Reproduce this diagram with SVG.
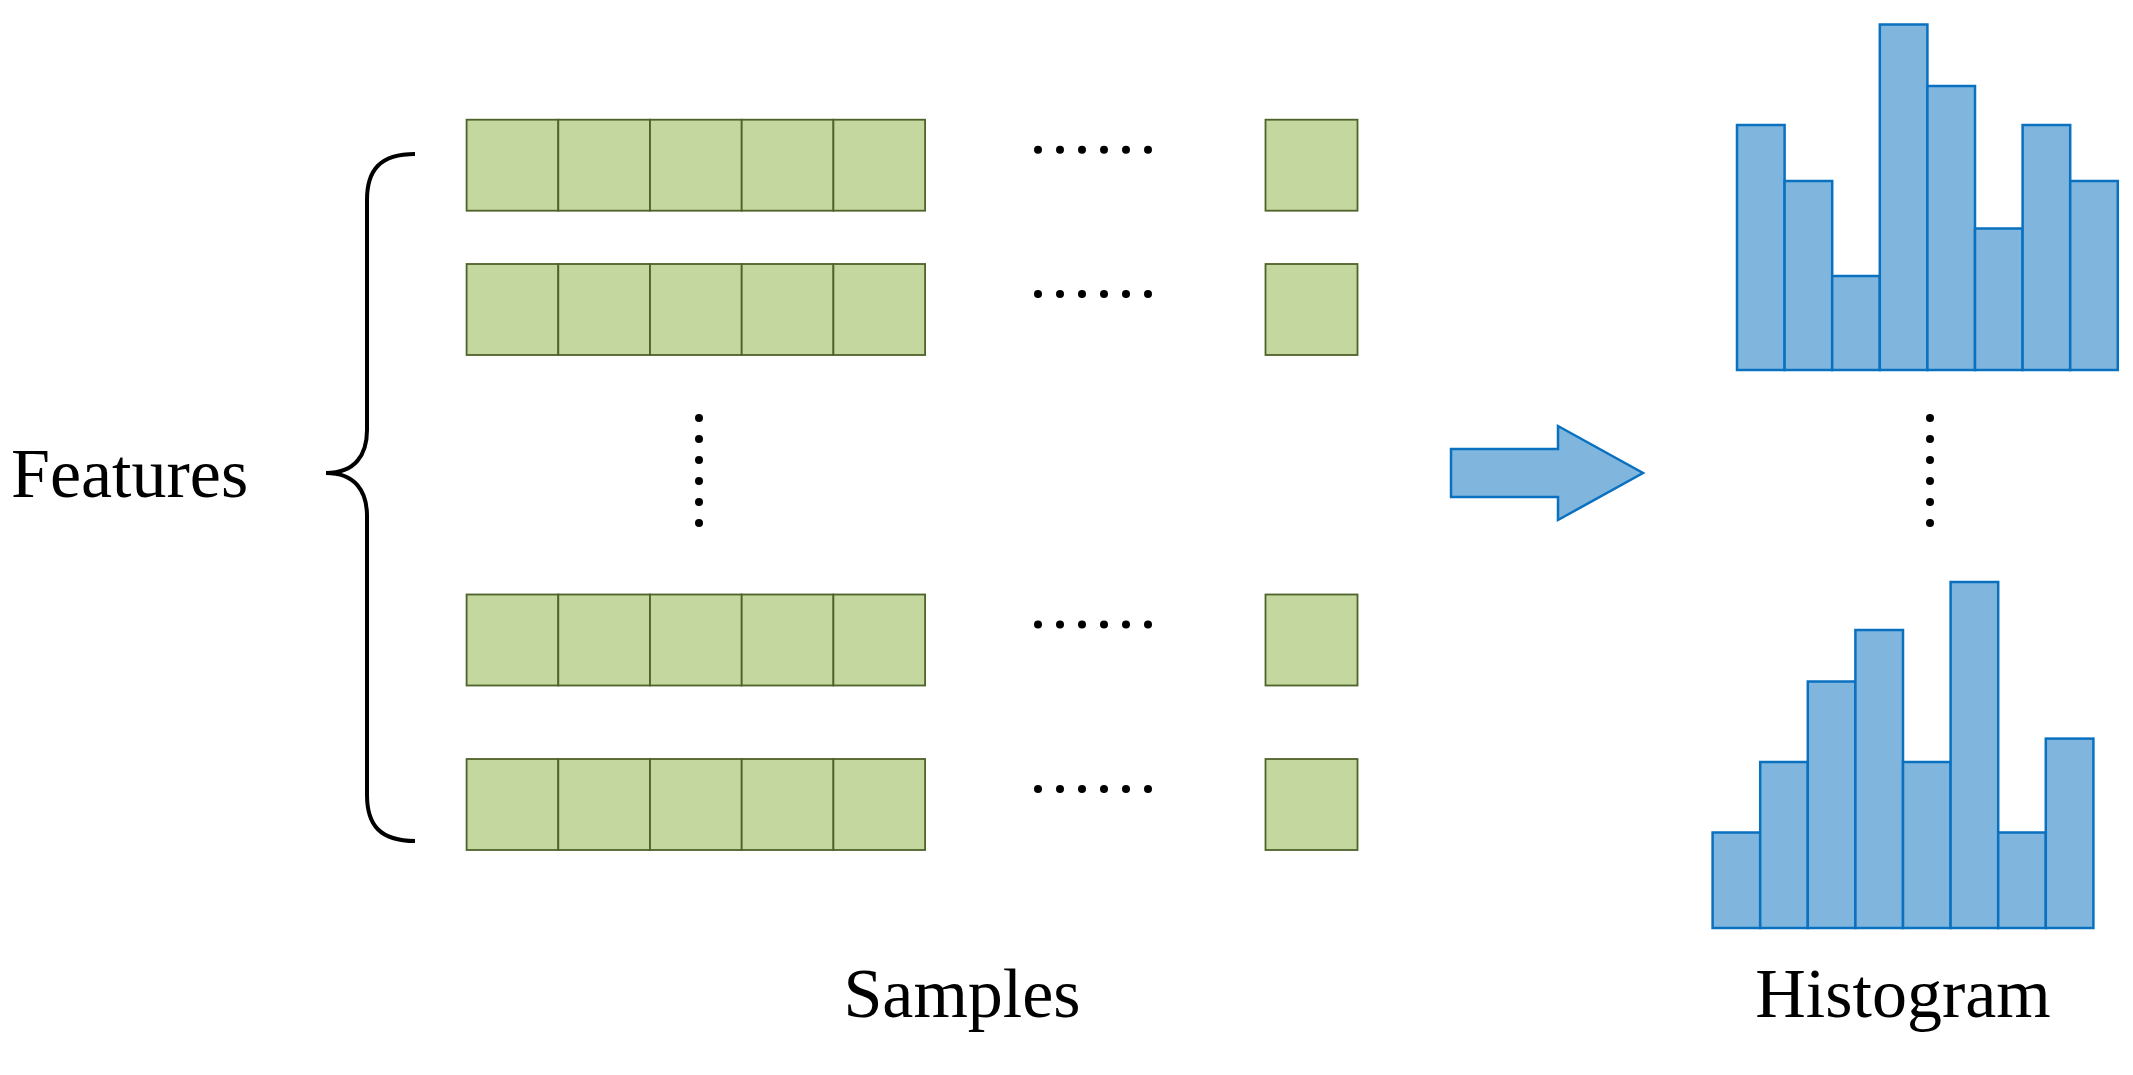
<svg xmlns="http://www.w3.org/2000/svg" width="2133" height="1075" viewBox="0 0 2133 1075">
<style>
.c{fill:#C4D79F;stroke:#4F6228;stroke-width:1.8}
.b{fill:#80B6DE;stroke:#0A70C0;stroke-width:2.5}
.t{font-family:"Liberation Serif",serif;font-size:70px;fill:#000}
.d{fill:#000}
</style>
<defs>
<g id="row">
<rect class="c" x="466.6" y="0" width="91.7" height="91"/>
<rect class="c" x="558.3" y="0" width="91.7" height="91"/>
<rect class="c" x="650" y="0" width="91.7" height="91"/>
<rect class="c" x="741.7" y="0" width="91.7" height="91"/>
<rect class="c" x="833.4" y="0" width="91.7" height="91"/>
<rect class="c" x="1265.5" y="0" width="92" height="91"/>
<g class="d"><circle cx="1038" cy="30" r="4"/><circle cx="1060" cy="30" r="4"/><circle cx="1082" cy="30" r="4"/><circle cx="1104" cy="30" r="4"/><circle cx="1126" cy="30" r="4"/><circle cx="1148" cy="30" r="4"/></g>
</g>
<g id="vd" class="d"><circle cx="0" cy="418" r="4"/><circle cx="0" cy="439" r="4"/><circle cx="0" cy="460" r="4"/><circle cx="0" cy="481" r="4"/><circle cx="0" cy="502" r="4"/><circle cx="0" cy="523" r="4"/></g>
</defs>
<g id="row1"><use href="#row" y="119.7"/></g>
<g id="row2"><use href="#row" y="264"/></g>
<g id="row3"><use href="#row" y="594.5"/></g>
<g id="row4"><use href="#row" y="759"/></g>
<g id="vdots1"><use href="#vd" x="699"/></g>
<g id="brace"><path d="M415 154 C380 154 367 170 367 200 L367 430 C367 455 355 473 326 473 C355 473 367 491 367 516 L367 795 C367 825 380 841 415 841" fill="none" stroke="#000" stroke-width="4"/></g>
<text class="t" x="11" y="497">Features</text>
<text class="t" x="962" y="1017" text-anchor="middle">Samples</text>
<g id="arrow"><polygon points="1451,449 1558,449 1558,426 1643,473 1558,520 1558,497 1451,497" fill="#80B6DE" stroke="#0A70C0" stroke-width="2.5"/></g>
<g id="hist1">
<rect class="b" x="1737" y="125" width="47.6" height="245"/>
<rect class="b" x="1784.6" y="181" width="47.6" height="189"/>
<rect class="b" x="1832.2" y="276" width="47.6" height="94"/>
<rect class="b" x="1879.8" y="24.5" width="47.6" height="345.5"/>
<rect class="b" x="1927.4" y="86" width="47.6" height="284"/>
<rect class="b" x="1975" y="228.5" width="47.6" height="141.5"/>
<rect class="b" x="2022.6" y="125" width="47.6" height="245"/>
<rect class="b" x="2070.2" y="181" width="47.6" height="189"/>
</g>
<g id="vdots2"><use href="#vd" x="1930"/></g>
<g id="hist2">
<rect class="b" x="1712.6" y="832.5" width="47.6" height="95.5"/>
<rect class="b" x="1760.2" y="762" width="47.6" height="166"/>
<rect class="b" x="1807.8" y="681.5" width="47.6" height="246.5"/>
<rect class="b" x="1855.4" y="630" width="47.6" height="298"/>
<rect class="b" x="1903" y="762" width="47.6" height="166"/>
<rect class="b" x="1950.6" y="582" width="47.6" height="346"/>
<rect class="b" x="1998.2" y="832.5" width="47.6" height="95.5"/>
<rect class="b" x="2045.8" y="738.6" width="47.6" height="189.4"/>
</g>
<text class="t" x="1903" y="1017" text-anchor="middle">Histogram</text>
</svg>
